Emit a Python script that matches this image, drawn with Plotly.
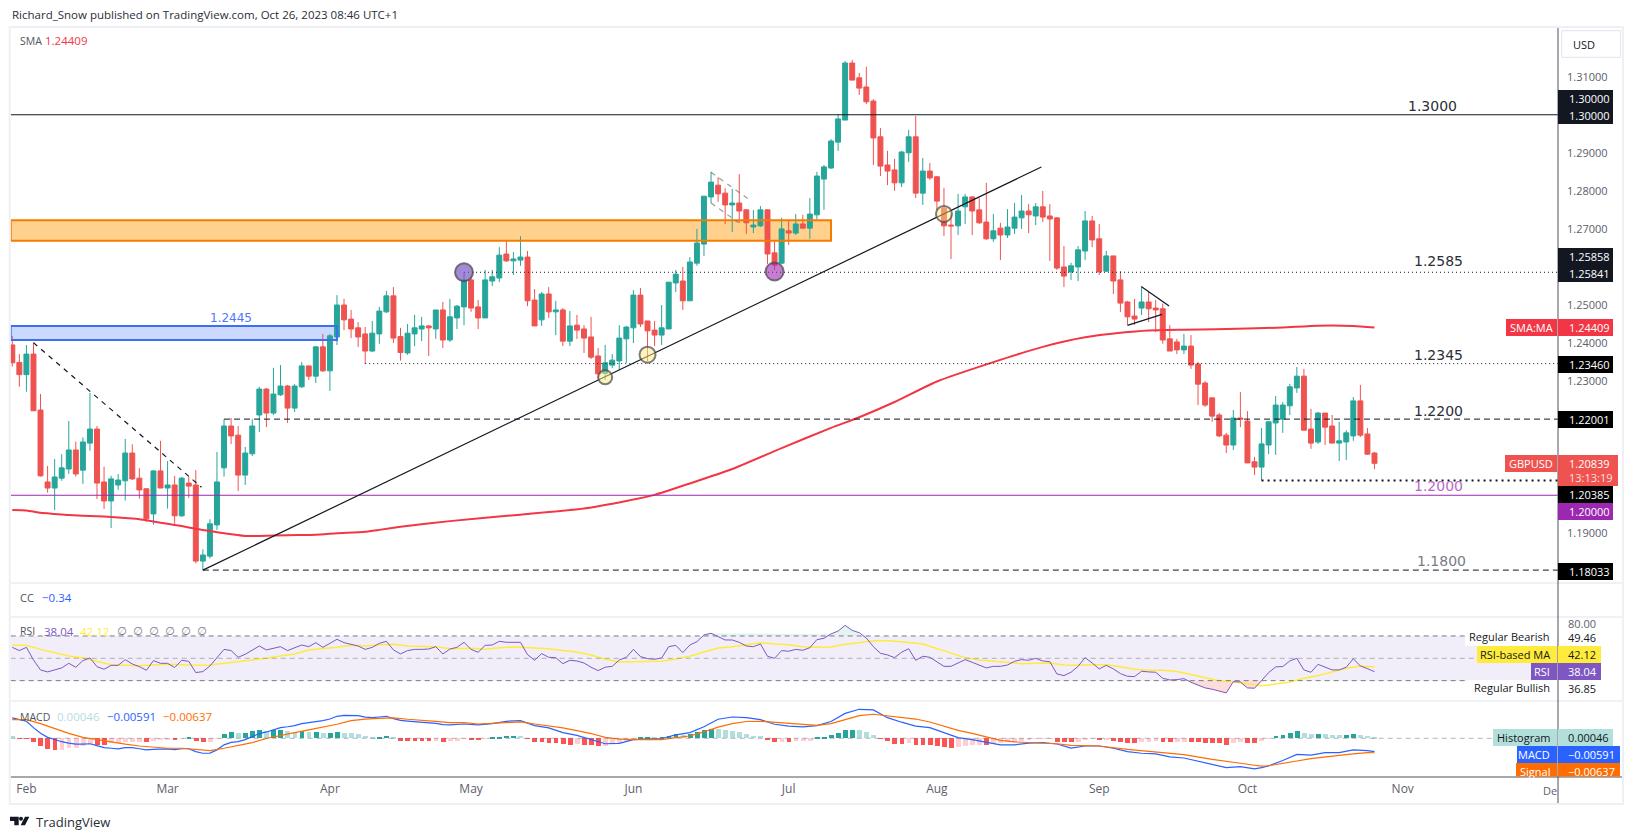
import plotly.graph_objects as go

# page body keeps its 8px margin, so the figure is 16px smaller than the window
W, H = 1618, 823

# daily GBP/USD bars, Jan 30 to Oct 26 2023
opens = [
    1.2395, 1.2349, 1.2317, 1.2371, 1.2224, 1.2035, 1.2019, 1.2045, 1.2069, 1.2119,
    1.2066, 1.2137, 1.2174, 1.2035, 1.1985, 1.2027, 1.2038, 1.2111, 1.2045, 1.2017,
    1.1951, 1.2064, 1.2019, 1.2027, 1.1946, 1.2032, 1.2027, 1.1827, 1.1840, 1.1922,
    1.2072, 1.2182, 1.2158, 1.2053, 1.2109, 1.2211, 1.2279, 1.2216, 1.2264, 1.2287,
    1.2229, 1.2285, 1.2340, 1.2313, 1.2390, 1.2327, 1.2416, 1.2500, 1.2463, 1.2440,
    1.2424, 1.2379, 1.2424, 1.2482, 1.2524, 1.2417, 1.2374, 1.2424, 1.2437, 1.2445,
    1.2437, 1.2487, 1.2408, 1.2466, 1.2495, 1.2566, 1.2495, 1.2466, 1.2563, 1.2571,
    1.2634, 1.2616, 1.2618, 1.2626, 1.2513, 1.2461, 1.2529, 1.2482, 1.2487, 1.2405,
    1.2447, 1.2437, 1.2416, 1.2366, 1.2320, 1.2342, 1.2353, 1.2411, 1.2440, 1.2526,
    1.2458, 1.2434, 1.2421, 1.2437, 1.2558, 1.2563, 1.2511, 1.2610, 1.2660, 1.2784,
    1.2815, 1.2794, 1.2763, 1.2768, 1.2750, 1.2705, 1.2708, 1.2750, 1.2637, 1.2610,
    1.2695, 1.2689, 1.2713, 1.2702, 1.2737, 1.2831, 1.2860, 1.2928, 1.2986, 1.3136,
    1.3097, 1.3073, 1.3036, 1.2942, 1.2868, 1.2855, 1.2821, 1.2900, 1.2942, 1.2794,
    1.2852, 1.2837, 1.2755, 1.2710, 1.2708, 1.2758, 1.2784, 1.2750, 1.2718, 1.2674,
    1.2702, 1.2684, 1.2702, 1.2729, 1.2747, 1.2734, 1.2758, 1.2734, 1.2729, 1.2600,
    1.2587, 1.2600, 1.2642, 1.2721, 1.2674, 1.2589, 1.2629, 1.2566, 1.2508, 1.2471,
    1.2492, 1.2508, 1.2492, 1.2490, 1.2411, 1.2403, 1.2382, 1.2392, 1.2345, 1.2295,
    1.2256, 1.2211, 1.2158, 1.2132, 1.2203, 1.2195, 1.2088, 1.2074, 1.2132, 1.2190,
    1.2200, 1.2235, 1.2282, 1.2313, 1.2174, 1.2140, 1.2216, 1.2182, 1.2137, 1.2140,
    1.2156, 1.2248, 1.2161, 1.2111,
]
highs = [
    1.2419, 1.2371, 1.2395, 1.2401, 1.2266, 1.2077, 1.2095, 1.2108, 1.2195, 1.2141,
    1.2152, 1.2269, 1.2182, 1.2075, 1.2051, 1.2056, 1.2148, 1.2134, 1.2071, 1.2018,
    1.2066, 1.2143, 1.2090, 1.2051, 1.2048, 1.2049, 1.2066, 1.1858, 1.1937, 1.2114,
    1.2200, 1.2203, 1.2182, 1.2127, 1.2200, 1.2285, 1.2282, 1.2335, 1.2342, 1.2290,
    1.2292, 1.2350, 1.2340, 1.2392, 1.2424, 1.2424, 1.2526, 1.2516, 1.2487, 1.2455,
    1.2442, 1.2458, 1.2495, 1.2537, 1.2547, 1.2440, 1.2450, 1.2474, 1.2469, 1.2447,
    1.2487, 1.2508, 1.2516, 1.2500, 1.2586, 1.2573, 1.2513, 1.2592, 1.2592, 1.2652,
    1.2668, 1.2639, 1.2681, 1.2642, 1.2542, 1.2534, 1.2547, 1.2511, 1.2492, 1.2484,
    1.2474, 1.2447, 1.2469, 1.2387, 1.2395, 1.2371, 1.2447, 1.2445, 1.2539, 1.2545,
    1.2458, 1.2458, 1.2500, 1.2560, 1.2592, 1.2600, 1.2626, 1.2700, 1.2786, 1.2850,
    1.2836, 1.2807, 1.2805, 1.2844, 1.2752, 1.2750, 1.2760, 1.2752, 1.2668, 1.2729,
    1.2723, 1.2739, 1.2737, 1.2781, 1.2850, 1.2868, 1.2936, 1.3002, 1.3141, 1.3144,
    1.3110, 1.3126, 1.3041, 1.2965, 1.2905, 1.2884, 1.2905, 1.2960, 1.2997, 1.2886,
    1.2873, 1.2839, 1.2808, 1.2739, 1.2792, 1.2792, 1.2786, 1.2781, 1.2821, 1.2739,
    1.2716, 1.2752, 1.2768, 1.2789, 1.2765, 1.2768, 1.2800, 1.2765, 1.2731, 1.2655,
    1.2611, 1.2655, 1.2747, 1.2734, 1.2713, 1.2642, 1.2629, 1.2589, 1.2511, 1.2516,
    1.2550, 1.2534, 1.2513, 1.2504, 1.2447, 1.2411, 1.2424, 1.2421, 1.2350, 1.2300,
    1.2256, 1.2216, 1.2164, 1.2224, 1.2271, 1.2221, 1.2101, 1.2177, 1.2195, 1.2261,
    1.2245, 1.2293, 1.2337, 1.2332, 1.2227, 1.2219, 1.2216, 1.2211, 1.2193, 1.2171,
    1.2258, 1.2290, 1.2177, 1.2114,
]
lows = [
    1.2338, 1.2285, 1.2272, 1.2222, 1.2049, 1.2007, 1.1961, 1.2038, 1.2056, 1.2049,
    1.2030, 1.2117, 1.1990, 1.1964, 1.1914, 1.2014, 1.1986, 1.2040, 1.1991, 1.1930,
    1.1923, 1.2019, 1.1965, 1.1925, 1.1943, 1.1993, 1.1821, 1.1803, 1.1834, 1.1909,
    1.2049, 1.2135, 1.2011, 1.2027, 1.2103, 1.2166, 1.2179, 1.2211, 1.2261, 1.2190,
    1.2219, 1.2282, 1.2303, 1.2295, 1.2324, 1.2274, 1.2395, 1.2434, 1.2413, 1.2390,
    1.2345, 1.2377, 1.2398, 1.2479, 1.2400, 1.2354, 1.2369, 1.2392, 1.2405, 1.2366,
    1.2411, 1.2387, 1.2403, 1.2437, 1.2447, 1.2482, 1.2437, 1.2466, 1.2550, 1.2560,
    1.2613, 1.2579, 1.2603, 1.2497, 1.2445, 1.2445, 1.2466, 1.2421, 1.2392, 1.2392,
    1.2411, 1.2374, 1.2358, 1.2307, 1.2303, 1.2334, 1.2329, 1.2348, 1.2400, 1.2442,
    1.2351, 1.2392, 1.2395, 1.2437, 1.2534, 1.2487, 1.2511, 1.2603, 1.2629, 1.2768,
    1.2771, 1.2713, 1.2692, 1.2716, 1.2687, 1.2689, 1.2705, 1.2608, 1.2592, 1.2608,
    1.2658, 1.2684, 1.2700, 1.2674, 1.2725, 1.2750, 1.2858, 1.2905, 1.2986, 1.3091,
    1.3052, 1.3028, 1.2868, 1.2839, 1.2815, 1.2800, 1.2810, 1.2876, 1.2781, 1.2763,
    1.2829, 1.2750, 1.2681, 1.2621, 1.2684, 1.2713, 1.2684, 1.2713, 1.2671, 1.2666,
    1.2618, 1.2676, 1.2687, 1.2700, 1.2689, 1.2710, 1.2718, 1.2616, 1.2592, 1.2547,
    1.2566, 1.2563, 1.2618, 1.2652, 1.2579, 1.2587, 1.2529, 1.2482, 1.2448, 1.2448,
    1.2474, 1.2455, 1.2429, 1.2398, 1.2379, 1.2371, 1.2371, 1.2332, 1.2237, 1.2232,
    1.2193, 1.2153, 1.2111, 1.2119, 1.2179, 1.2085, 1.2053, 1.20385, 1.2108, 1.2106,
    1.2164, 1.2211, 1.2269, 1.2171, 1.2122, 1.2135, 1.2132, 1.2137, 1.2090, 1.2093,
    1.2143, 1.2153, 1.2106, 1.2069,
]
closes = [
    1.2348, 1.2317, 1.2371, 1.2222, 1.2051, 1.2019, 1.2048, 1.2072, 1.2119, 1.2056,
    1.2140, 1.2174, 1.2032, 1.1985, 1.2043, 1.2040, 1.2111, 1.2043, 1.2014, 1.1938,
    1.2064, 1.2019, 1.2027, 1.1946, 1.2045, 1.2024, 1.1827, 1.1843, 1.1925, 1.2035,
    1.2182, 1.2156, 1.2053, 1.2111, 1.2182, 1.2279, 1.2216, 1.2266, 1.2287, 1.2229,
    1.2287, 1.2340, 1.2313, 1.2390, 1.2327, 1.2419, 1.2500, 1.2461, 1.2437, 1.2416,
    1.2379, 1.2426, 1.2484, 1.2524, 1.2413, 1.2375, 1.2426, 1.2440, 1.2445, 1.2440,
    1.2487, 1.2408, 1.2469, 1.2497, 1.2566, 1.2492, 1.2466, 1.2566, 1.2574, 1.2631,
    1.2616, 1.2621, 1.2626, 1.2511, 1.2445, 1.2529, 1.2482, 1.2487, 1.2405, 1.2445,
    1.2434, 1.2413, 1.2363, 1.2319, 1.2348, 1.2355, 1.2413, 1.2442, 1.2526, 1.2450,
    1.2432, 1.2421, 1.2440, 1.2560, 1.2581, 1.2511, 1.2613, 1.2663, 1.2786, 1.2823,
    1.2792, 1.2763, 1.2768, 1.2747, 1.2716, 1.2710, 1.2750, 1.2634, 1.2605, 1.2700,
    1.2689, 1.2713, 1.2702, 1.2739, 1.2839, 1.2863, 1.2931, 1.2989, 1.3136, 1.3091,
    1.3070, 1.3034, 1.2939, 1.2865, 1.2852, 1.2821, 1.2902, 1.2942, 1.2794, 1.2852,
    1.2834, 1.2773, 1.2708, 1.2708, 1.2747, 1.2784, 1.2747, 1.2716, 1.2674, 1.2695,
    1.2684, 1.2705, 1.2731, 1.2747, 1.2737, 1.2758, 1.2731, 1.2726, 1.2597, 1.2576,
    1.2603, 1.2645, 1.2721, 1.2671, 1.2587, 1.2629, 1.2563, 1.2505, 1.2469, 1.2463,
    1.2508, 1.2490, 1.2487, 1.2408, 1.2379, 1.2382, 1.2392, 1.2342, 1.2292, 1.2237,
    1.2208, 1.2156, 1.2132, 1.2203, 1.2200, 1.2085, 1.2074, 1.2135, 1.2193, 1.2237,
    1.2237, 1.2285, 1.2313, 1.2171, 1.2137, 1.2216, 1.2179, 1.2137, 1.2143, 1.2164,
    1.2248, 1.2158, 1.2108, 1.20839,
]

sma_x = [0, 2, 4, 6, 8, 12, 14, 16, 18, 20, 22, 24, 26, 28, 30, 33, 35, 39, 43, 46, 50, 52, 55,
         62, 72, 81, 87, 91, 96, 102, 109, 116, 120, 125, 131, 139, 146, 152, 157, 161, 166,
         175, 180, 185, 190, 193]
sma = [1.1961, 1.1960, 1.1954, 1.1951, 1.1948, 1.1945, 1.1943, 1.1940, 1.1937, 1.1931, 1.1925,
       1.1919, 1.1912, 1.1906, 1.1900, 1.1893, 1.1893, 1.1895, 1.1896, 1.1900, 1.1904, 1.1909,
       1.1917, 1.1932, 1.1949, 1.1965, 1.1985, 1.2001, 1.2031, 1.2069, 1.2124, 1.2177, 1.2205,
       1.2245, 1.2299, 1.2350, 1.2390, 1.2415, 1.2427, 1.2433, 1.2435, 1.2438, 1.2441, 1.24457,
       1.2445, 1.24409]

rsi = [
    59.8, 56.9, 59.8, 48.5, 39.6, 37.8, 39.6, 41.4, 45.5, 42.0,
    47.9, 50.3, 42.5, 40.2, 43.7, 43.7, 48.8, 44.9, 42.5, 39.3,
    47.9, 45.5, 45.5, 41.7, 48.2, 47.3, 37.2, 38.1, 43.1, 50.9,
    58.0, 56.9, 50.9, 53.6, 57.2, 61.0, 57.5, 59.2, 60.4, 56.9,
    59.2, 61.9, 60.4, 64.0, 59.8, 63.4, 67.0, 64.0, 62.2, 61.0,
    58.0, 59.8, 63.4, 65.2, 57.5, 53.9, 56.9, 58.0, 58.0, 58.3,
    60.4, 53.9, 58.3, 59.8, 64.3, 58.0, 55.4, 61.6, 61.9, 65.2,
    64.3, 64.3, 64.3, 53.3, 48.2, 54.2, 50.9, 50.6, 45.2, 48.2,
    47.6, 45.8, 42.0, 39.0, 42.0, 42.8, 48.5, 50.9, 58.0, 51.5,
    49.7, 49.1, 50.3, 60.4, 61.6, 55.1, 61.9, 64.9, 70.9, 72.4,
    69.4, 66.4, 66.4, 64.3, 61.0, 60.4, 62.8, 51.8, 50.0, 56.9,
    56.3, 58.0, 57.2, 59.5, 66.7, 67.9, 71.8, 74.4, 79.5, 75.0,
    72.9, 68.2, 60.4, 54.5, 53.0, 50.6, 55.4, 58.6, 48.2, 51.8,
    50.9, 46.7, 42.8, 42.8, 46.1, 48.8, 46.4, 44.0, 41.4, 42.8,
    42.8, 44.0, 47.3, 48.8, 48.2, 50.0, 47.6, 47.0, 36.0, 34.5,
    37.5, 42.8, 50.6, 45.8, 40.5, 43.7, 40.5, 36.3, 33.9, 33.6,
    38.4, 37.8, 37.5, 32.1, 30.6, 30.9, 31.8, 28.5, 25.9, 23.5,
    22.3, 20.5, 19.0, 29.1, 28.8, 23.5, 23.2, 30.0, 37.2, 42.3,
    42.6, 47.6, 50.0, 39.6, 37.5, 44.6, 42.3, 39.6, 39.6, 42.0,
    49.6, 43.1, 40.7, 38.04,
]
rsi_ma_x = (list(range(0, 63, 2)) + [63, 65, 67, 69, 71] + list(range(74, 127, 2))
            + list(range(129, 194, 2)))
rsi_ma = [
    61.6, 61.6, 58.0, 55.1, 52.1, 50.3, 47.0, 44.3, 43.7, 43.4, 44.0, 44.6, 44.3, 43.7, 44.0, 45.5,
    46.7, 48.5, 50.0, 52.1, 53.9, 57.5, 58.6, 59.8, 61.6, 61.0, 62.2, 62.5, 61.0, 60.7, 60.4, 58.6,
    58.9, 58.9, 58.0, 59.5, 60.1, 59.5, 58.6, 56.9, 55.7, 53.0, 49.1, 46.7, 47.0, 47.0, 47.3, 49.4,
    51.8, 55.7, 59.2, 60.4, 62.5, 64.0, 62.8, 62.2, 60.4, 59.8, 60.1, 62.5, 64.0, 65.8, 65.8, 64.9,
    62.8, 58.9, 54.5, 50.6, 48.5, 47.3, 45.8, 45.2, 45.5, 45.8, 44.0, 43.7, 44.3, 44.3, 42.5, 40.2,
    39.3, 39.3, 38.1, 35.4, 32.7, 30.0, 29.1, 27.0, 25.5, 27.0, 28.8, 32.1, 34.5, 37.8, 41.0, 43.1,
    42.12,
]

hist = [
    .0010, -.0003, -.0003, -.0016, -.0034, -.0047, -.0051, -.0051, -.0043, -.0043,
    -.0034, -.0025, -.0029, -.0029, -.0021, -.0021, -.0016, -.0016, -.0016, -.0016,
    -.0012, -.0007, -.0007, -.0007, -.0003, .0003, -.0012, -.0016, -.0016, -.0003,
    .0021, .0029, .0025, .0025, .0034, .0038, .0034, .0038, .0038, .0034,
    .0029, .0034, .0029, .0029, .0025, .0025, .0029, .0025, .0025, .0021,
    .0012, .0007, .0007, .0012, .0003, -.0012, -.0012, -.0012, -.0012, -.0012,
    -.0012, -.0016, -.0012, -.0012, -.0003, -.0007, -.0007, -.0003, .0003, .0007,
    .0012, .0012, .0012, -.0003, -.0016, -.0016, -.0021, -.0021, -.0025, -.0029,
    -.0025, -.0029, -.0029, -.0034, -.0034, -.0021, -.0021, -.0012, -.0007, .0003,
    .0003, .0003, .0003, .0012, .0021, .0016, .0021, .0029, .0038, .0043,
    .0043, .0038, .0034, .0029, .0021, .0012, .0012, -.0007, -.0016, -.0016,
    -.0016, -.0012, -.0012, -.0012, .0003, .0007, .0016, .0025, .0038, .0038,
    .0038, .0029, .0016, -.0003, -.0012, -.0025, -.0025, -.0021, -.0029, -.0029,
    -.0029, -.0034, -.0038, -.0043, -.0038, -.0034, -.0029, -.0029, -.0029, -.0025,
    -.0021, -.0016, -.0016, -.0012, -.0007, -.0003, -.0003, -.0003, -.0016, -.0016,
    -.0016, -.0016, -.0007, -.0003, -.0007, -.0007, -.0012, -.0016, -.0021, -.0021,
    -.0016, -.0016, -.0012, -.0016, -.0016, -.0016, -.0016, -.0016, -.0016, -.0021,
    -.0021, -.0021, -.0029, -.0021, -.0016, -.0021, -.0021, -.0012, -.0003, .0012,
    .0016, .0025, .0034, .0025, .0021, .0021, .0021, .0016, .0016, .0013,
    .0019, .0015, .0009, .00046,
]
# 1 when the bar rose against the bar before it
hist_rising = [
    0, 0, 0, 0, 0, 0, 0, 1, 1, 1,
    1, 1, 0, 0, 1, 1, 1, 1, 1, 0,
    1, 1, 1, 0, 1, 1, 0, 0, 1, 1,
    1, 1, 0, 1, 1, 1, 0, 1, 1, 0,
    0, 1, 0, 1, 0, 1, 1, 0, 0, 0,
    0, 0, 1, 1, 0, 0, 0, 0, 0, 0,
    1, 0, 1, 1, 1, 0, 0, 1, 1, 1,
    1, 1, 0, 0, 0, 0, 0, 0, 0, 0,
    1, 0, 0, 0, 1, 1, 1, 1, 1, 1,
    1, 0, 1, 1, 1, 0, 1, 1, 1, 1,
    0, 0, 0, 0, 0, 0, 0, 0, 0, 1,
    0, 1, 1, 1, 1, 1, 1, 1, 1, 1,
    0, 0, 0, 0, 0, 0, 0, 1, 0, 0,
    0, 0, 0, 0, 1, 1, 1, 1, 0, 1,
    1, 1, 1, 1, 1, 1, 1, 1, 0, 0,
    0, 1, 1, 1, 0, 1, 0, 0, 0, 0,
    1, 1, 1, 0, 0, 1, 1, 0, 0, 0,
    0, 0, 0, 1, 1, 0, 0, 1, 1, 1,
    1, 1, 1, 0, 0, 1, 0, 0, 0, 1,
    1, 0, 0, 0,
]
macd_x = (list(range(63)) + list(range(64, 177, 2)) + [177] + list(range(178, 193, 2)) + [193])
macd = [
    .0090, .0081, .0075, .0047, .0022, .0004, -.0007, -.0015, -.0021, -.0026,
    -.0026, -.0024, -.0032, -.0041, -.0044, -.0047, -.0041, -.0041, -.0046, -.0051,
    -.0049, -.0047, -.0047, -.0050, -.0046, -.0046, -.0059, -.0066, -.0065, -.0051,
    -.0029, -.0018, -.0015, -.0006, .0009, .0021, .0028, .0037, .0047, .0051,
    .0056, .0065, .0069, .0075, .0078, .0085, .0097, .0101, .0101, .0100,
    .0093, .0091, .0094, .0097, .0087, .0079, .0076, .0074, .0071, .0068,
    .0066, .0060, .0059,
    .0063, .0059, .0065, .0075, .0078, .0056, .0046, .0025, .0013, -.0007,
    -.0024, -.0022, -.0006, -.0003, -.0001, .0015, .0025, .0051, .0084, .0094,
    .0091, .0082, .0062, .0054, .0050, .0056, .0074, .0110, .0128, .0125,
    .0091, .0071,
    .0054, .0047, .0026, .0003, -.0006, -.0019, -.0029, -.0029, -.0021, -.0019,
    -.0025, -.0043, -.0034,
    -.0034, -.0044, -.0059, -.0066, -.0069, -.0082, -.0087, -.0100, -.0113, -.0129,
    -.0125, -.0135,
    -.0129,
    -.0122, -.0098, -.0071, -.0074, -.0063, -.0063, -.0051, -.0054,
    -.00591,
]
signal_x = (list(range(0, 153, 2)) + [154, 158, 162, 166, 170, 172, 174, 176, 177]
            + list(range(178, 193, 2)) + [193])
signal = [
    .0082, .0082, .0065, .0043, .0022, .0004, -.0007, -.0016, -.0026, -.0034,
    -.0040, -.0044, -.0044, -.0049, -.0054, -.0044, -.0031, -.0019, -.0001, .0013,
    .0025, .0037, .0049, .0062, .0078, .0085, .0088, .0090, .0084, .0081,
    .0075, .0069,
    .0069, .0063, .0066, .0069, .0072, .0063, .0056, .0046, .0034, .0021,
    .0004, -.0004, -.0006, -.0006, -.0006, .0003, .0010, .0028, .0049, .0065,
    .0074, .0075, .0071, .0066, .0062, .0057, .0065, .0082, .0100, .0106,
    .0100, .0091,
    .0085, .0072, .0054, .0035, .0022, .0006, -.0009, -.0016, -.0019, -.0019,
    -.0024, -.0031, -.0032,
    -.0034, -.0049, -.0060, -.0072, -.0093, -.0103, -.0110, -.0119, -.0123,
    -.0121, -.0112, -.0100, -.0090, -.0081, -.0075, -.0069, -.0063,
    -.00637,
]

tick_idx = [2, 22, 45, 65, 88, 110, 131, 154, 175, 197]
tick_labels = ["Feb", "Mar", "Apr", "May", "Jun", "Jul", "Aug", "Sep", "Oct", "Nov"]
price_ticks = [1.31, 1.29, 1.28, 1.27, 1.25, 1.24, 1.23, 1.19]

assert len(opens) == len(highs) == len(lows) == len(closes) == len(rsi) == len(hist) == len(hist_rising) == 194
assert len(macd) == len(macd_x) and len(signal) == len(signal_x) and len(rsi_ma) == len(rsi_ma_x)
assert len(sma) == len(sma_x)

idx = list(range(len(closes)))
X_LO, X_HI = -0.227, 219.0

UP, DOWN = "#26a69a", "#ef5350"
INK = "#131722"
AXIS_GREY = "#5d606b"
FONT = "Open Sans"
DOTTED = "1px,3px"
DASHED = "6px,4px"


def fx(px):
    return (px - 8) / W


def fy(py):
    return 1 - (py - 8) / H


fig = go.Figure()

fig.add_trace(go.Candlestick(
    x=idx, open=opens, high=highs, low=lows, close=closes,
    increasing=dict(line=dict(color=UP, width=1), fillcolor=UP),
    decreasing=dict(line=dict(color=DOWN, width=1), fillcolor=DOWN),
    whiskerwidth=0, xaxis="x", yaxis="y", hoverinfo="skip",
))
fig.add_trace(go.Scatter(x=sma_x, y=sma, mode="lines", xaxis="x", yaxis="y",
                         line=dict(color="#f23645", width=2, shape="spline", smoothing=0.5)))

# oversold and overbought shading of the rsi
low_x = [i for i in idx if rsi[i] <= 30.5]
high_x = [i for i in idx if rsi[i] >= 70]
for run_x, level_rsi, tint in ((low_x, 30, "rgba(239,83,80,0.2)"), (high_x, 70, "rgba(38,166,154,0.12)")):
    fig.add_trace(go.Scatter(x=run_x, y=[level_rsi] * len(run_x), mode="lines", xaxis="x2", yaxis="y2",
                             line=dict(width=0)))
    fig.add_trace(go.Scatter(x=run_x, y=[rsi[i] for i in run_x], mode="lines", xaxis="x2", yaxis="y2",
                             line=dict(width=0), fill="tonexty", fillcolor=tint))
fig.add_trace(go.Scatter(x=rsi_ma_x, y=rsi_ma, mode="lines", xaxis="x2", yaxis="y2",
                         line=dict(color="#ffeb3b", width=1.5)))
fig.add_trace(go.Scatter(x=idx, y=rsi, mode="lines", xaxis="x2", yaxis="y2",
                         line=dict(color="#7e57c2", width=1)))

hist_colors = []
for v, rising in zip(hist, hist_rising):
    if v >= 0:
        hist_colors.append(UP if rising else "#b2dfdb")
    else:
        hist_colors.append("#ffcdd2" if rising else "#ff5252")
fig.add_trace(go.Bar(x=idx, y=hist, width=0.68, marker=dict(color=hist_colors, line=dict(width=0)),
                     xaxis="x3", yaxis="y3"))
fig.add_trace(go.Scatter(x=macd_x, y=macd, mode="lines", xaxis="x3", yaxis="y3",
                         line=dict(color="#2962ff", width=1.2)))
fig.add_trace(go.Scatter(x=signal_x, y=signal, mode="lines", xaxis="x3", yaxis="y3",
                         line=dict(color="#ff6d00", width=1.2)))

shapes = []
notes = []


def level(x0, price, color="#131722", dash="solid", width=1):
    shapes.append(dict(type="line", xref="x", yref="y", x0=x0, x1=X_HI, y0=price, y1=price,
                       line=dict(color=color, dash=dash, width=width)))


def seg(x0, y0, x1, y1, color="#131722", dash="solid", width=1.2):
    shapes.append(dict(type="line", xref="x", yref="y", x0=x0, x1=x1, y0=y0, y1=y1,
                       line=dict(color=color, dash=dash, width=width)))


def zone(x0, x1, y0, y1, fill, edge):
    shapes.append(dict(type="rect", xref="x", yref="y", x0=x0, x1=x1, y0=y0, y1=y1, layer="below",
                       fillcolor=fill, line=dict(width=0)))
    shapes.append(dict(type="rect", xref="x", yref="y", x0=x0, x1=x1, y0=y0, y1=y1,
                       line=dict(color=edge, width=2)))


def dot(i, price, fill, size=9):
    shapes.append(dict(type="circle", xref="x", yref="y", xsizemode="pixel", ysizemode="pixel",
                       xanchor=i, yanchor=price, x0=-size, x1=size, y0=-size, y1=size,
                       fillcolor=fill, line=dict(color="rgba(70,70,70,0.7)", width=2)))


def box(x0, x1, y0, y1, fill, line=None):
    shapes.append(dict(type="rect", xref="paper", yref="paper", x0=fx(x0), x1=fx(x1), y0=fy(y1), y1=fy(y0),
                       fillcolor=fill, line=line or dict(width=0)))


def rule(x0, y0, x1, y1, color, width=1):
    shapes.append(dict(type="line", xref="paper", yref="paper", x0=fx(x0), x1=fx(x1), y0=fy(y0), y1=fy(y1),
                       line=dict(color=color, width=width)))


def note(text, x, y, color=INK, size=11, anchor="left", family=FONT):
    notes.append(dict(text=text, xref="paper", yref="paper", x=fx(x), y=fy(y), xanchor=anchor, yanchor="middle",
                      showarrow=False, font=dict(family=family, size=size, color=color)))


# drawings on the price pane
zone(X_LO, 116, 1.2669, 1.2723, "rgba(255,152,0,0.45)", "#f57c00")
zone(X_LO, 46, 1.2408, 1.2445, "rgba(41,98,255,0.24)", "#3d6ff5")
level(X_LO, 1.30)
level(64, 1.2586, dash=DOTTED)
level(50, 1.2346, dash=DOTTED)
level(30, 1.22001, dash=DASHED)
level(177, 1.20385, dash="2px,4px", width=2)
level(X_LO, 1.20, color="#9c27b0")
level(27, 1.18033, dash=DASHED)
seg(27, 1.18033, 145.8, 1.28627)
seg(3, 1.2401, 26.8, 1.2021, dash="5px,5px")
seg(99, 1.28486, 104.5, 1.27759, color="rgba(90,90,90,0.6)", dash="5px,5px")
seg(99, 1.27681, 102.9, 1.27164, color="rgba(90,90,90,0.6)", dash="5px,5px")
seg(160, 1.25482, 163.9, 1.24974)
seg(158, 1.24466, 162.9, 1.24755)
dot(64, 1.2586, "rgba(126,87,194,0.7)")
dot(108, 1.2588, "rgba(156,39,176,0.6)")
dot(90, 1.23694, "rgba(255,235,130,0.5)", 8)
dot(84, 1.2310, "rgba(255,235,130,0.5)", 7)
dot(132, 1.27392, "rgba(255,235,130,0.45)", 8)

# rsi band
shapes.append(dict(type="rect", xref="paper", yref="y2", x0=fx(10.7), x1=fx(1558), y0=30, y1=70, layer="below",
                   fillcolor="rgba(126,87,194,0.1)", line=dict(width=0)))
for lvl, tone in ((70, "#787b86"), (50, "rgba(120,123,134,0.55)"), (30, "#787b86")):
    shapes.append(dict(type="line", xref="x2", yref="y2", x0=X_LO, x1=X_HI, y0=lvl, y1=lvl,
                       line=dict(color=tone, dash="5px,4px", width=1)))
shapes.append(dict(type="line", xref="x3", yref="y3", x0=X_LO, x1=X_HI, y0=0, y1=0,
                   line=dict(color="rgba(120,123,134,0.55)", dash="5px,4px", width=1)))

# frame and pane separators
for y in (583, 617, 701):
    rule(10.7, y, 1622, y, "#e0e3eb")
rule(10.7, 777, 1622, 777, "#50535e")
rule(1558, 27, 1558, 803, "#50535e")
shapes.append(dict(type="rect", xref="paper", yref="paper", x0=fx(9.7), x1=fx(1623), y0=fy(804), y1=fy(27),
                   line=dict(color="#eef0f6", width=2)))

# right hand price tags
box(1558, 1613, 90, 124, "#131722")
note("1.30000", 1566.5, 98.7, "white")
note("1.30000", 1566.5, 115.3, "white")
box(1558, 1613, 248, 282, "#131722")
note("1.25858", 1566.5, 256.7, "white")
note("1.25841", 1566.5, 274, "white")
box(1506, 1557, 319, 336, "#f23645")
box(1558, 1613, 319, 336, "#f23645")
note("SMA:MA", 1531.5, 327.5, "white", anchor="center")
note("1.24409", 1566.5, 327.5, "white")
box(1558, 1613, 356, 373, "#000000")
note("1.23460", 1566.5, 364.3, "white")
box(1558, 1613, 411, 428, "#000000")
note("1.22001", 1566.5, 419.3, "white")
box(1505, 1557, 455, 472, "#ef5350")
box(1558, 1618, 455, 486, "#ef5350")
note("GBPUSD", 1531, 463.7, "white", anchor="center")
note("1.20839", 1566.5, 463.7, "white")
note("13:13:19", 1566.5, 477.7, "#fde0df")
box(1558, 1613, 486, 503, "#000000")
note("1.20385", 1566.5, 494.7, "white")
box(1558, 1613, 503, 520, "#9c27b0")
note("1.20000", 1566.5, 511.3, "white")
box(1558, 1613, 563, 580, "#000000")
note("1.18033", 1566.5, 571.7, "white")

box(1561.7, 1620.7, 30.7, 57.3, "white", dict(color="#e0e3eb", width=1))
note("USD", 1570.7, 44.3)

# rsi tags
box(1465, 1557, 630, 646, "white")
note("Regular Bearish", 1552, 636.7, anchor="right")
note("49.46", 1566, 637.7)
note("80.00", 1566, 623.3, AXIS_GREY)
box(1477, 1557, 646, 663, "#ffeb3b")
box(1558, 1601, 646, 663, "#ffeb3b")
note("RSI-based MA", 1552, 654.5, anchor="right")
note("42.12", 1566, 654.5)
box(1531, 1557, 663, 680, "#7e57c2")
box(1558, 1601, 663, 680, "#7e57c2")
note("RSI", 1552, 671.5, "white", anchor="right")
note("38.04", 1566, 671.5, "white")
box(1468, 1557, 680, 696, "white")
note("Regular Bullish", 1552, 687.7, anchor="right")
note("36.85", 1566, 688)

# macd tags
box(1493, 1557, 729, 746, "#b2dfdb")
box(1558, 1613, 729, 746, "#b2dfdb")
note("Histogram", 1552, 737.5, anchor="right")
note("0.00046", 1566, 737.5)
box(1517, 1557, 746, 763, "#2962ff")
box(1558, 1620, 746, 763, "#2962ff")
note("MACD", 1552, 754.5, "white", anchor="right")
note("\u22120.00591", 1566, 754.5, "white")
box(1516, 1557, 763, 776.5, "#ff6d00")
box(1558, 1620, 763, 776.5, "#ff6d00")
note("Signal", 1552, 771, "white", anchor="right")
note("\u22120.00637", 1566, 771, "white")

note("De", 1558.5, 790, AXIS_GREY, 11, anchor="right")

# level captions
note("1.3000", 1432, 106, "#2a2e39", 14, "center", "DejaVu Sans")
note("1.2585", 1438.7, 260.7, "#2a2e39", 14, "center", "DejaVu Sans")
note("1.2345", 1438.7, 355.3, "#2a2e39", 14, "center", "DejaVu Sans")
note("1.2200", 1438.7, 410.7, "#2a2e39", 14, "center", "DejaVu Sans")
note("1.2000", 1438.7, 485.7, "#ba68c8", 14, "center", "DejaVu Sans")
note("1.1800", 1441, 561, "#787b86", 14, "center", "DejaVu Sans")
note("1.2445", 230.7, 317.7, "#4f79f7", 12, "center", "DejaVu Sans")

# legends of each pane
note("Richard_Snow published on TradingView.com, Oct 26, 2023 08:46 UTC+1", 10.4, 14.6, "#2a2e39", 11.5)
note("SMA", 18, 41, "#50535e", 10.5)
note("1.24409", 43, 41, "#f23645", 11.5)
note("CC", 18, 597.7, "#50535e", 11)
note("\u22120.34", 40, 597.7, "#2962ff", 11.5)
note("RSI", 18, 631.3, "#50535e", 10.5)
note("38.04", 41.7, 631.3, "#7e57c2", 11.5)
note("42.12", 78.3, 631.3, "#ffeb3b", 11.5)
for k in range(6):
    note("\u2205", 115 + k * 15.9, 631.3, "#787b86", 11.5, family="DejaVu Sans")
note("MACD", 18, 716.7, "#50535e", 10.5)
note("0.00046", 55, 716.7, "#b2dfdb", 11.5)
note("\u22120.00591", 105, 716.7, "#2962ff", 11.5)
note("\u22120.00637", 161, 716.7, "#ff6d00", 11.5)

# tradingview logo and wordmark
shapes.append(dict(type="path", xref="paper", yref="paper", line=dict(width=0), fillcolor=INK,
                   path="M {} {} L {} {} L {} {} L {} {} L {} {} L {} {} Z".format(
                       fx(10), fy(816.7), fx(18.7), fy(816.7), fx(18.7), fy(825.3),
                       fx(14.3), fy(825.3), fx(14.3), fy(821), fx(10), fy(821))))
shapes.append(dict(type="circle", xref="paper", yref="paper", line=dict(width=0), fillcolor=INK,
                   x0=fx(19), x1=fx(23), y0=fy(820.8), y1=fy(816.8)))
shapes.append(dict(type="path", xref="paper", yref="paper", line=dict(width=0), fillcolor=INK,
                   path="M {} {} L {} {} L {} {} L {} {} Z".format(
                       fx(25), fy(816.7), fx(29.3), fy(816.7), fx(25), fy(825.3), fx(20.7), fy(825.3))))
note("TradingView", 33.7, 821.7, "#2a2e39", 13)

fig.update_layout(
    width=W, height=H, margin=dict(l=0, r=0, t=0, b=0),
    paper_bgcolor="white", plot_bgcolor="rgba(0,0,0,0)", showlegend=False, bargap=0,
    boxgap=0.3, boxgroupgap=0,
    shapes=shapes, annotations=notes,
    font=dict(family=FONT, size=11, color=AXIS_GREY),
    xaxis=dict(domain=[fx(10.7), fx(1558)], range=[X_LO, X_HI], anchor="y", visible=False,
               rangeslider=dict(visible=False), showgrid=False, zeroline=False),
    yaxis=dict(domain=[fy(583), fy(27)], range=[1.17694, 1.32306], anchor="x", side="right",
               tickmode="array", tickvals=price_ticks, tickformat=".5f", ticks="", ticklabelstandoff=8,
               tickfont=dict(family=FONT, size=11, color=AXIS_GREY),
               showgrid=False, zeroline=False, showline=False),
    xaxis2=dict(domain=[fx(10.7), fx(1558)], range=[X_LO, X_HI], anchor="y2", visible=False,
                showgrid=False, zeroline=False),
    yaxis2=dict(domain=[fy(701), fy(617)], range=[11.77, 86.97], anchor="x2", visible=False,
                showgrid=False, zeroline=False),
    xaxis3=dict(domain=[fx(10.7), fx(1558)], range=[X_LO, X_HI], anchor="y3",
                tickmode="array", tickvals=tick_idx, ticktext=tick_labels, ticks="", ticklabelstandoff=3,
                tickfont=dict(family=FONT, size=12, color=AXIS_GREY),
                showgrid=False, zeroline=False, showline=False),
    yaxis3=dict(domain=[fy(777), fy(701)], range=[-0.01707, 0.01645], anchor="x3", visible=False,
                showgrid=False, zeroline=False),
)

fig.write_html("out.html")
